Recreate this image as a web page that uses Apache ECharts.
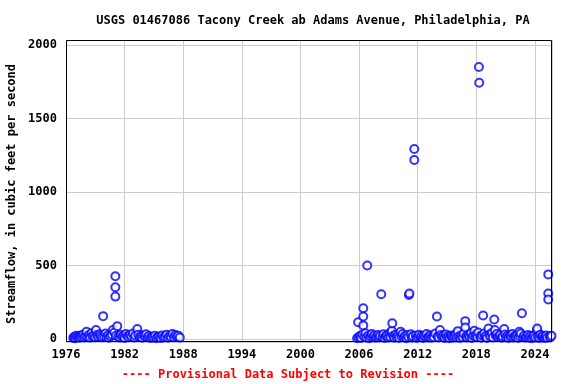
<!DOCTYPE html>
<html><head><meta charset="utf-8">
<script src="https://cdn.jsdelivr.net/npm/echarts@6/dist/echarts.min.js"></script>
<style>html,body{margin:0;padding:0;background:#fff}#c{width:576px;height:384px}</style>
</head><body><div id="c"></div>
<script>
const titleText = 'USGS 01467086 Tacony Creek ab Adams Avenue, Philadelphia, PA';
const yAxisTitle = 'Streamflow, in cubic feet per second';
const footerText = '---- Provisional Data Subject to Revision ----';
const xTicks = [1976, 1982, 1988, 1994, 2000, 2006, 2012, 2018, 2024];
const yTicks = [0, 500, 1000, 1500, 2000];

// [decimal year, streamflow cfs]
const measurements1976to1987 = [
[1976.75,8],[1976.85,15],[1976.95,6],[1977.05,22],[1977.15,12],[1977.3,18],[1977.4,9],[1977.5,25],[1977.6,14],[1977.75,30],[1977.85,11],[1978.0,20],[1978.1,50],[1978.2,16],[1978.35,28],[1978.45,10],[1978.6,40],[1978.7,19],[1978.85,24],[1979.0,13],[1979.07,61],[1979.2,27],[1979.3,15],[1979.45,33],[1979.55,21],[1979.7,12],[1979.8,156],[1979.9,18],[1980.05,38],[1980.15,14],[1980.3,26],[1980.4,9],[1980.55,20],[1980.7,31],[1980.8,61],[1980.95,45],[1981.05,427],[1981.05,353],[1981.05,289],[1981.1,22],[1981.25,88],[1981.35,17],[1981.5,10],[1981.6,29],[1981.75,15],[1981.9,23],[1982.0,8],[1982.15,34],[1982.3,19],[1982.4,12],[1982.55,27],[1982.7,16],[1982.85,38],[1983.0,11],[1983.1,24],[1983.3,68],[1983.4,30],[1983.55,14],[1983.7,21],[1983.8,9],[1983.95,26],[1984.1,17],[1984.2,33],[1984.35,12],[1984.5,20],[1984.65,7],[1984.8,15],[1984.95,10],[1985.1,22],[1985.25,6],[1985.4,13],[1985.55,18],[1985.7,8],[1985.85,25],[1986.0,11],[1986.15,16],[1986.3,30],[1986.45,9],[1986.6,21],[1986.75,14],[1986.9,35],[1987.05,12],[1987.2,27],[1987.35,18],[1987.5,22],[1987.65,10]
];
const measurements2005to2025 = [
[2005.8,5],[2005.9,115],[2005.95,12],[2006.1,20],[2006.2,8],[2006.35,30],[2006.43,210],[2006.43,154],[2006.43,93],[2006.55,15],[2006.65,40],[2006.75,10],[2006.84,500],[2006.95,22],[2007.05,6],[2007.2,18],[2007.3,35],[2007.45,12],[2007.55,25],[2007.7,9],[2007.8,16],[2007.95,28],[2008.05,11],[2008.15,20],[2008.27,305],[2008.4,14],[2008.5,33],[2008.6,7],[2008.75,19],[2008.85,26],[2009.0,10],[2009.1,38],[2009.2,15],[2009.3,45],[2009.35,56],[2009.4,108],[2009.5,22],[2009.6,9],[2009.75,30],[2009.85,13],[2010.0,24],[2010.1,8],[2010.25,50],[2010.35,17],[2010.45,35],[2010.6,11],[2010.7,21],[2010.85,6],[2010.95,27],[2011.05,14],[2011.1,300],[2011.15,310],[2011.3,32],[2011.4,10],[2011.5,19],[2011.65,1293],[2011.65,1218],[2011.8,25],[2011.9,8],[2012.05,16],[2012.15,29],[2012.3,12],[2012.4,20],[2012.55,7],[2012.65,23],[2012.8,15],[2012.9,34],[2013.05,10],[2013.15,18],[2013.3,26],[2013.4,9],[2013.55,21],[2013.65,13],[2013.8,37],[2013.97,154],[2014.05,17],[2014.15,11],[2014.28,61],[2014.4,28],[2014.5,14],[2014.65,22],[2014.75,8],[2014.9,31],[2015.0,12],[2015.15,19],[2015.25,6],[2015.4,25],[2015.5,15],[2015.65,9],[2015.75,20],[2015.9,33],[2016.0,11],[2016.1,54],[2016.2,17],[2016.35,7],[2016.45,24],[2016.6,13],[2016.7,36],[2016.87,122],[2016.87,79],[2016.95,18],[2017.05,10],[2017.2,27],[2017.3,14],[2017.45,40],[2017.55,8],[2017.7,22],[2017.8,56],[2017.9,16],[2018.0,30],[2018.1,12],[2018.2,45],[2018.27,1851],[2018.3,1744],[2018.4,19],[2018.5,9],[2018.6,26],[2018.7,160],[2018.8,38],[2018.9,14],[2019.0,21],[2019.1,7],[2019.25,72],[2019.35,29],[2019.45,15],[2019.6,42],[2019.7,11],[2019.84,133],[2019.9,61],[2020.0,24],[2020.1,35],[2020.2,13],[2020.35,19],[2020.45,28],[2020.6,9],[2020.7,17],[2020.86,68],[2020.95,31],[2021.05,12],[2021.2,22],[2021.3,8],[2021.45,26],[2021.55,15],[2021.7,34],[2021.8,10],[2021.95,20],[2022.05,14],[2022.2,29],[2022.3,7],[2022.4,50],[2022.5,18],[2022.55,38],[2022.67,176],[2022.8,12],[2022.9,23],[2023.05,9],[2023.15,16],[2023.3,27],[2023.4,11],[2023.55,21],[2023.65,6],[2023.8,14],[2023.9,25],[2024.05,10],[2024.2,60],[2024.24,72],[2024.3,18],[2024.45,8],[2024.55,30],[2024.7,13],[2024.8,20],[2024.95,7],[2025.05,16],[2025.15,24],[2025.25,9],[2025.37,440],[2025.37,310],[2025.37,269],[2025.5,19],[2025.6,12],[2025.7,22]
];

const font = 'DejaVu Sans Mono';
const chart = echarts.init(document.getElementById('c'), null, {renderer:'canvas'});
const markerStyle = {color:'#0000ff', borderColor:'#0000ff', borderWidth:1.8};
chart.setOption({
  animation:false,
  backgroundColor:'#fff',
  title:{text:titleText, left:308, top:10, textAlign:'center',
    textStyle:{fontFamily:font, fontSize:12, fontWeight:'bold', color:'#000'}},
  graphic:[
    {type:'text', left:'center', top:369, style:{text:footerText, fill:'#ff0000', font:'bold 12px "DejaVu Sans Mono"'}},
    {type:'text', x:12, y:194, rotation:Math.PI/2, style:{text:yAxisTitle, fill:'#000', font:'bold 12px "DejaVu Sans Mono"', align:'center', verticalAlign:'middle'}},
    {type:'rect', z:100, shape:{x:66.5, y:40.5, width:485, height:301}, style:{fill:null, stroke:'#000', lineWidth:1}}
  ],
  grid:{left:66, right:24, top:40, bottom:42, show:false},
  xAxis:{type:'value', min:1976, max:2025.75, interval:6,
    axisLine:{show:false}, axisTick:{show:false},
    splitLine:{show:true, lineStyle:{color:'#cccccc', width:1}},
    axisLabel:{fontFamily:font, fontSize:12, fontWeight:'bold', color:'#000', margin:7,
      formatter:v=> xTicks.includes(Math.round(v*100)/100) ? String(v) : ''}},
  yAxis:{type:'value', min:-20, max:2035,
    axisLine:{show:false}, axisTick:{show:false},
    splitLine:{show:true, lineStyle:{color:'#cccccc', width:1}},
    axisLabel:{fontFamily:font, fontSize:12, fontWeight:'bold', color:'#000', margin:9,
      formatter:v=> yTicks.includes(v) ? String(v) : ''}},
  series:[
    {type:'scatter', data:measurements1976to1987, symbol:'emptyCircle', symbolSize:8, itemStyle:markerStyle, clip:false},
    {type:'scatter', data:measurements2005to2025, symbol:'emptyCircle', symbolSize:8, itemStyle:markerStyle, clip:false}
  ]
});
</script></body></html>
